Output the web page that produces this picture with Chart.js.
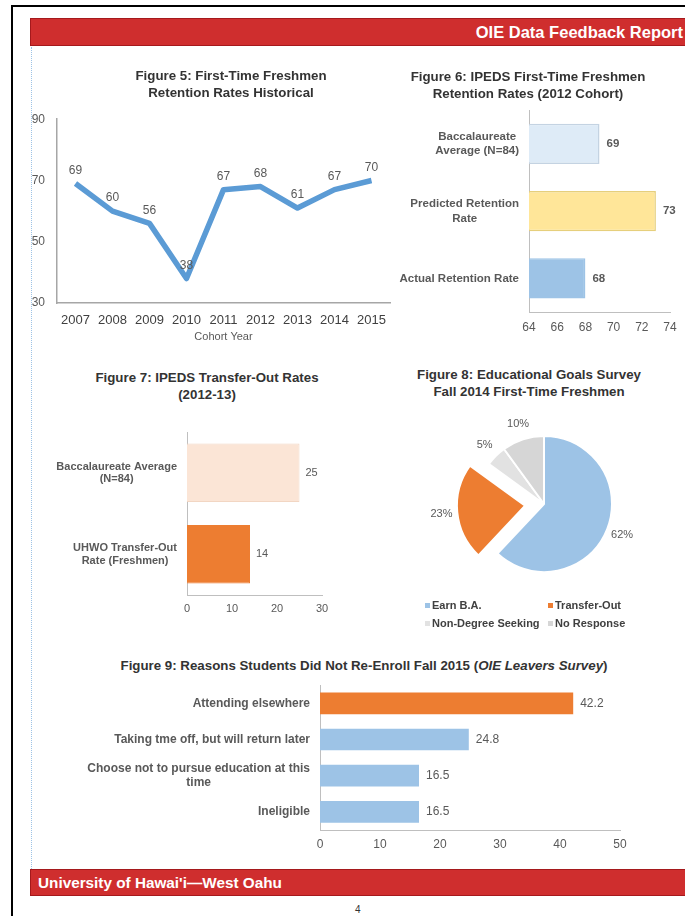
<!DOCTYPE html>
<html lang="en">
<head>
<meta charset="UTF-8">
<title>OIE Data Feedback Report</title>
<script src="https://cdn.jsdelivr.net/npm/chart.js"></script>
<style>
  html, body { margin: 0; padding: 0; }
  body { width: 685px; height: 916px; position: relative; overflow: hidden; background: #fff;
         font-family: 'Liberation Sans', Arial, sans-serif; }
  .frame { position: absolute; left: 11px; top: 5px; width: 720px; height: 960px;
           border-left: 2px solid #000; border-top: 2px solid #000; }
  .band { position: absolute; left: 30px; right: -3px; background: #cf2e2e; border: 1px solid #a5191c;
          color: #fff; font-weight: bold; box-sizing: border-box; white-space: nowrap; }
  .header { top: 18px; height: 28px; font-size: 16.5px; line-height: 26px; text-align: right; padding-right: 4px; }
  .footer { top: 869px; height: 27px; font-size: 15.3px; line-height: 25px; padding-left: 7px; }
  .margin { position: absolute; left: 31px; top: 47px; height: 822px; border-left: 1px dotted #9dc3e6; }
  .title { position: absolute; font-weight: bold; font-size: 13.3px; line-height: 17px; color: #333;
           text-align: center; white-space: nowrap; transform: translateX(-50%); z-index: 2; }
  .box { position: absolute; }
  .legend { position: absolute; left: 425px; top: 596px; display: grid; grid-template-columns: 123px auto;
            grid-auto-rows: 18px; font-size: 11px; font-weight: bold; color: #404040; }
  .legend span { display: flex; align-items: center; white-space: nowrap; }
  .legend i { display: inline-block; width: 5px; height: 5px; margin-right: 2px; }
  .page { position: absolute; left: 355px; top: 904px; font-size: 10px; color: #333; }
</style>
</head>
<body>
<div class="frame"></div>
<div class="band header">OIE Data Feedback Report</div>
<div class="margin"></div>

<div class="title" style="left:231px; top:67px;">Figure 5: First-Time Freshmen<br>Retention Rates Historical</div>
<div class="title" style="left:528px; top:68px;">Figure 6: IPEDS First-Time Freshmen<br>Retention Rates (2012 Cohort)</div>
<div class="title" style="left:207px; top:369px;">Figure 7: IPEDS Transfer-Out Rates<br>(2012-13)</div>
<div class="title" style="left:529px; top:366px;">Figure 8: Educational Goals Survey<br>Fall 2014 First-Time Freshmen</div>
<div class="title" style="left:364px; top:657px;">Figure 9: Reasons Students Did Not Re-Enroll Fall 2015 (<i>OIE Leavers Survey</i>)</div>

<div class="box" style="left:20px; top:100px; width:380px; height:250px;"><canvas id="fig5"></canvas></div>
<div class="box" style="left:390px; top:100px; width:295px; height:240px;"><canvas id="fig6"></canvas></div>
<div class="box" style="left:20px; top:410px; width:340px; height:210px;"><canvas id="fig7"></canvas></div>
<div class="box" style="left:420px; top:406px; width:248px; height:196px;"><canvas id="fig8"></canvas></div>
<div class="legend" id="fig8legend"></div>
<div class="box" style="left:20px; top:675px; width:660px; height:177px;"><canvas id="fig9"></canvas></div>

<div class="band footer">University of Hawai'i—West Oahu</div>
<div class="page">4</div>

<script>
// Figure 5
const cohortYears = ['2007', '2008', '2009', '2010', '2011', '2012', '2013', '2014', '2015'];
const retentionRates = [69, 60, 56, 38, 67, 68, 61, 67, 70];

// Figure 6
const ipedsLabels = [['Baccalaureate', 'Average (N=84)'], ['Predicted Retention', 'Rate'], 'Actual Retention Rate'];
const ipedsRates = [69, 73, 68];
const ipedsColors = ['#deebf7', '#ffe699', '#9dc3e6'];
const ipedsBorders = ['#c4d3e2', '#e6cf7c', '#9dc3e6'];

// Figure 7
const transferLabels = [['Baccalaureate Average', '(N=84)'], ['UHWO Transfer-Out', 'Rate (Freshmen)']];
const transferRates = [25, 14];
const transferColors = ['#fbe5d6', '#ed7d31'];

// Figure 8
const goalLabels = ['Earn B.A.', 'Transfer-Out', 'Non-Degree Seeking', 'No Response'];
const goalShares = [62, 23, 5, 10];
const goalColors = ['#9dc3e6', '#ed7d31', '#e2e2e2', '#d6d6d6'];
const goalOffsets = [0, 76, 0, 0];

// Figure 9
const reasonLabels = ['Attending elsewhere', 'Taking tme off, but will return later',
  ['Choose not to pursue education at this', 'time'], 'Ineligible'];
const reasonPercents = [42.2, 24.8, 16.5, 16.5];
const reasonColors = ['#ed7d31', '#9dc3e6', '#9dc3e6', '#9dc3e6'];

Chart.defaults.font.family = "'Liberation Sans', Arial, sans-serif";
Chart.defaults.color = '#595959';
Chart.defaults.animation = false;
Chart.defaults.events = [];
Chart.defaults.plugins.legend.display = false;
Chart.defaults.plugins.tooltip.enabled = false;
Chart.defaults.responsive = true;
Chart.defaults.maintainAspectRatio = false;

// numbers next to bars / above points / outside slices
const valueLabels = {
  id: 'valueLabels',
  defaults: { display: false },
  afterDatasetsDraw(chart, args, opts) {
    if (!opts.display) return;
    const ctx = chart.ctx;
    const data = chart.data.datasets[0].data;
    ctx.save();
    ctx.font = opts.font;
    ctx.fillStyle = opts.color;
    ctx.textBaseline = 'middle';
    chart.getDatasetMeta(0).data.forEach((el, i) => {
      const text = data[i] + (opts.suffix || '');
      let x = el.x, y = el.y;
      if (opts.mode === 'above') {
        ctx.textAlign = 'center';
        y -= opts.gap;
      } else if (opts.mode === 'end') {
        ctx.textAlign = 'left';
        x += opts.gap;
      } else {
        const mid = (el.startAngle + el.endAngle) / 2;
        const r = el.outerRadius + (el.options.offset || 0) / 4 + opts.gap;
        ctx.textAlign = 'center';
        x += Math.cos(mid) * r;
        y += Math.sin(mid) * r;
      }
      ctx.fillText(text, x, y);
    });
    ctx.restore();
  }
};

// category labels: block right aligned, lines centred inside the block
const blockTicks = {
  id: 'blockTicks',
  defaults: { display: false },
  afterDraw(chart, args, opts) {
    if (!opts.display) return;
    const scale = chart.scales.y;
    const ctx = chart.ctx;
    ctx.save();
    ctx.font = opts.font;
    ctx.fillStyle = opts.color;
    ctx.textAlign = 'center';
    ctx.textBaseline = 'middle';
    chart.data.labels.forEach((label, i) => {
      const lines = Array.isArray(label) ? label : [label];
      const w = Math.max(...lines.map(l => ctx.measureText(l).width));
      const cx = scale.right - opts.padding - w / 2;
      const cy = scale.getPixelForTick(i);
      lines.forEach((line, j) => {
        ctx.fillText(line, cx, cy + (j - (lines.length - 1) / 2) * opts.lineHeight);
      });
    });
    ctx.restore();
  }
};

Chart.register(valueLabels, blockTicks);

function hbarOptions(cfg) {
  return {
    indexAxis: 'y',
    layout: { padding: cfg.padding },
    plugins: {
      valueLabels: { display: true, mode: 'end', gap: cfg.valueGap, font: cfg.valueFont, color: '#595959' },
      blockTicks: { display: true, font: cfg.labelFont, color: '#595959', padding: 10, lineHeight: cfg.lineHeight }
    },
    scales: {
      x: {
        min: cfg.min, max: cfg.max,
        ticks: { stepSize: cfg.step, padding: cfg.tickPad, color: '#595959', font: { size: cfg.tickSize } },
        grid: { display: false, drawTicks: false },
        border: { color: '#bfbfbf', width: 1 },
        afterFit: s => { s.height = cfg.xHeight; }
      },
      y: {
        ticks: { color: 'rgba(0,0,0,0)' },
        grid: { display: false, drawTicks: false },
        border: { color: '#bfbfbf', width: 1 },
        afterFit: s => { s.width = cfg.yWidth; }
      }
    }
  };
}

new Chart(document.getElementById('fig5'), {
  type: 'line',
  data: {
    labels: cohortYears,
    datasets: [{
      data: retentionRates,
      borderColor: '#5b9bd5',
      borderWidth: 5.5,
      borderJoinStyle: 'round',
      pointRadius: 0,
      tension: 0
    }]
  },
  options: {
    layout: { padding: { top: 9, right: 10, bottom: 6, left: 0 } },
    plugins: {
      valueLabels: { display: true, mode: 'above', gap: 13, font: '12px "Liberation Sans", Arial, sans-serif', color: '#595959' }
    },
    scales: {
      x: {
        offset: true,
        ticks: { padding: 10, color: '#404040', font: { size: 13 } },
        grid: { display: false, drawTicks: false },
        border: { color: '#a6a6a6', width: 1.5 },
        title: { display: true, text: 'Cohort Year', color: '#595959', font: { size: 11 }, padding: 0 },
        afterFit: s => { s.height = 41; }
      },
      y: {
        min: 30, max: 90,
        ticks: { stepSize: 20, padding: 12, color: '#595959', font: { size: 12 } },
        grid: { display: false, drawTicks: false },
        border: { color: '#a6a6a6', width: 1.5 },
        afterFit: s => { s.width = 37; }
      }
    }
  }
});

new Chart(document.getElementById('fig6'), {
  type: 'bar',
  data: {
    labels: ipedsLabels,
    datasets: [{
      data: ipedsRates,
      backgroundColor: ipedsColors,
      borderColor: ipedsBorders,
      borderWidth: 1.5,
      barPercentage: 0.6,
      categoryPercentage: 1
    }]
  },
  options: hbarOptions({
    padding: { top: 7, right: 15, bottom: 0, left: 0 },
    min: 64, max: 74, step: 2, tickPad: 8, tickSize: 12,
    xHeight: 28, yWidth: 139, lineHeight: 14.5, valueGap: 7,
    valueFont: 'bold 11.5px "Liberation Sans", Arial, sans-serif',
    labelFont: 'bold 11.5px "Liberation Sans", Arial, sans-serif'
  })
});

new Chart(document.getElementById('fig7'), {
  type: 'bar',
  data: {
    labels: transferLabels,
    datasets: [{
      data: transferRates,
      backgroundColor: transferColors,
      borderColor: ['#f2d6c3', '#ed7d31'],
      borderWidth: 1,
      barPercentage: 0.72,
      categoryPercentage: 1
    }]
  },
  options: hbarOptions({
    padding: { top: 22, right: 38, bottom: 0, left: 0 },
    min: 0, max: 30, step: 10, tickPad: 7, tickSize: 11,
    xHeight: 25, yWidth: 167, lineHeight: 12.5, valueGap: 6,
    valueFont: '11px "Liberation Sans", Arial, sans-serif',
    labelFont: 'bold 11px "Liberation Sans", Arial, sans-serif'
  })
});

new Chart(document.getElementById('fig8'), {
  type: 'pie',
  data: {
    labels: goalLabels,
    datasets: [{
      data: goalShares,
      backgroundColor: goalColors,
      borderColor: '#ffffff',
      borderWidth: 2,
      offset: goalOffsets
    }]
  },
  options: {
    radius: 68,
    plugins: {
      valueLabels: { display: true, mode: 'outside', gap: 16, suffix: '%', font: '11px "Liberation Sans", Arial, sans-serif', color: '#595959' }
    }
  }
});

// legend for figure 8, two columns like the original
const legendBox = document.getElementById('fig8legend');
goalLabels.forEach((label, i) => {
  const item = document.createElement('span');
  const mark = document.createElement('i');
  mark.style.background = goalColors[i];
  item.appendChild(mark);
  item.appendChild(document.createTextNode(label));
  legendBox.appendChild(item);
});

new Chart(document.getElementById('fig9'), {
  type: 'bar',
  data: {
    labels: reasonLabels,
    datasets: [{
      data: reasonPercents,
      backgroundColor: reasonColors,
      barPercentage: 0.6,
      categoryPercentage: 1
    }]
  },
  options: hbarOptions({
    padding: { top: 7, right: 60, bottom: 0, left: 0 },
    min: 0, max: 50, step: 10, tickPad: 7, tickSize: 12,
    xHeight: 22, yWidth: 300, lineHeight: 14.5, valueGap: 7,
    valueFont: '12px "Liberation Sans", Arial, sans-serif',
    labelFont: 'bold 12px "Liberation Sans", Arial, sans-serif'
  })
});
</script>
</body>
</html>
